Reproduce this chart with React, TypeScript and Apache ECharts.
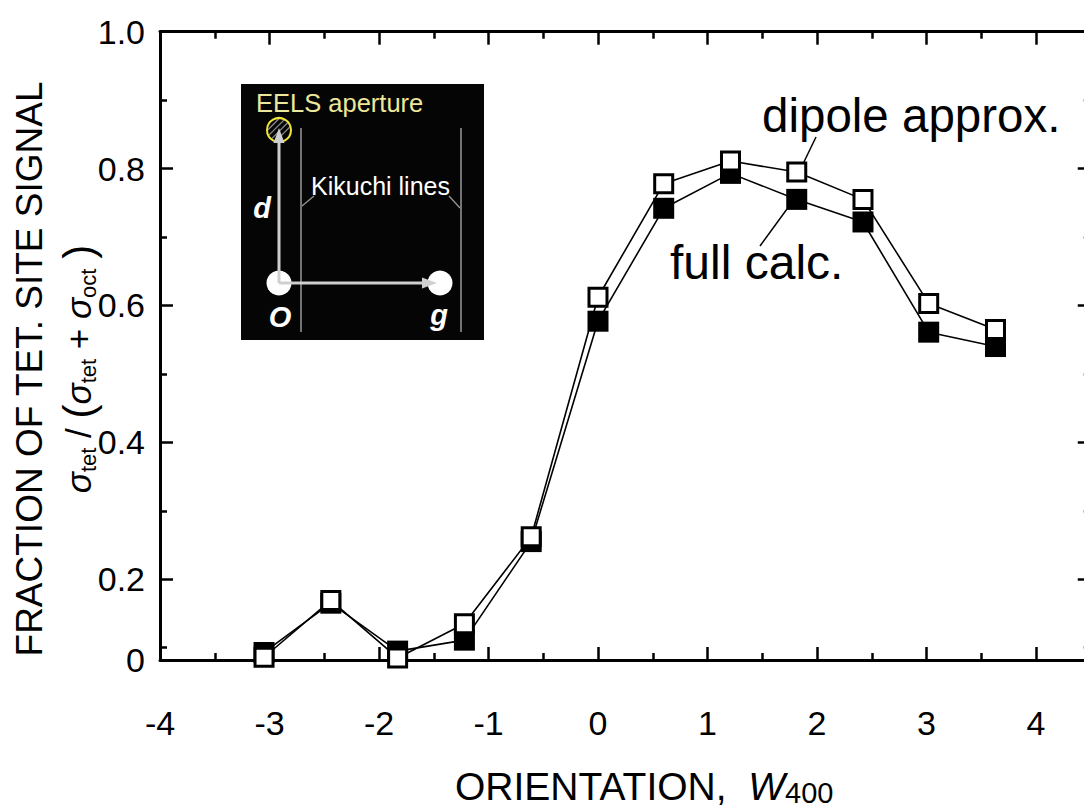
import React, { useEffect, useRef } from 'react';
import * as echarts from 'echarts';

// ---- data ----
const orientation = [-3.05, -2.44, -1.83, -1.22, -0.61, 0, 0.6, 1.21, 1.815, 2.42, 3.02, 3.63];
const dipoleApprox = [0.086, 0.169, 0.085, 0.135, 0.262, 0.612, 0.778, 0.811, 0.795, 0.755, 0.603, 0.565];
const fullCalc = [0.093, 0.165, 0.095, 0.111, 0.255, 0.577, 0.742, 0.793, 0.755, 0.722, 0.561, 0.54];

const X_MIN = -4;
const X_MAX = 4.5;
const Y_MIN = 0.082; // bottom of the drawn axis, labelled "0" in the original
const Y_MAX = 1.0;
const xMajorTicks = [-4, -3, -2, -1, 0, 1, 2, 3, 4];
const xMinorTicks = [-3.5, -2.5, -1.5, -0.5, 0.5, 1.5, 2.5, 3.5];
const yMajorTicks = [0.2, 0.4, 0.6, 0.8, 1.0];
const yMinorTicks = [0.1, 0.3, 0.5, 0.7, 0.9];
const yTickLabels = [Y_MIN, 0.2, 0.4, 0.6, 0.8, 1.0];

const FONT = '"Liberation Sans", Arial, Helvetica, sans-serif';

function xAxisDef(position: string, ticks: number[], len: number, withLabel: boolean, withLine: boolean) {
  return {
    type: 'value',
    position,
    min: X_MIN,
    max: X_MAX,
    axisLine: { show: withLine, onZero: false, lineStyle: { color: '#000', width: 3 } },
    axisTick: { show: true, inside: true, length: len, customValues: ticks, lineStyle: { color: '#000', width: 2.5 } },
    axisLabel: withLabel
      ? { show: true, customValues: xMajorTicks, margin: 46, fontSize: 34, color: '#000', fontFamily: FONT,
          formatter: (v: number) => String(v) }
      : { show: false },
    splitLine: { show: false },
  };
}

function yAxisDef(position: string, ticks: number[], len: number, withLabel: boolean, withLine: boolean) {
  return {
    type: 'value',
    position,
    min: Y_MIN,
    max: Y_MAX,
    axisLine: { show: withLine, onZero: false, lineStyle: { color: '#000', width: 3 } },
    axisTick: { show: true, inside: true, length: len, customValues: ticks, lineStyle: { color: '#000', width: 2.5 } },
    axisLabel: withLabel
      ? { show: true, customValues: yTickLabels, margin: 15, fontSize: 34, color: '#000', fontFamily: FONT,
          formatter: (v: number) => (Math.abs(v - Y_MIN) < 1e-6 ? '0' : v.toFixed(1)) }
      : { show: false },
    splitLine: { show: false },
  };
}

function insetGraphics() {
  const els: any[] = [];
  const cx = 279, cy = 130, r = 12;
  els.push({ type: 'rect', shape: { x: 241, y: 84, width: 243, height: 256 }, style: { fill: '#050505' }, z: 10 });
  // Kikuchi lines
  els.push({ type: 'line', shape: { x1: 301, y1: 128, x2: 301, y2: 332 }, style: { stroke: '#9a9a9a', lineWidth: 1.5 }, z: 11 });
  els.push({ type: 'line', shape: { x1: 461, y1: 128, x2: 461, y2: 332 }, style: { stroke: '#9a9a9a', lineWidth: 1.5 }, z: 11 });
  els.push({ type: 'line', shape: { x1: 314, y1: 196, x2: 302, y2: 206 }, style: { stroke: '#9a9a9a', lineWidth: 1.2 }, z: 11 });
  els.push({ type: 'line', shape: { x1: 449, y1: 196, x2: 460, y2: 208 }, style: { stroke: '#9a9a9a', lineWidth: 1.2 }, z: 11 });
  els.push({ type: 'text', x: 311, y: 186, style: { text: 'Kikuchi lines', fill: '#ffffff', font: `25px ${FONT}`, align: 'left', verticalAlign: 'middle' }, z: 12 });
  // aperture
  [-8, -3.5, 1, 5.5].forEach((d) => {
    const h = Math.sqrt(r * r - d * d);
    const s = Math.SQRT1_2;
    els.push({ type: 'line', shape: { x1: cx + d * s - h * s, y1: cy + d * s + h * s, x2: cx + d * s + h * s, y2: cy + d * s - h * s },
      style: { stroke: '#8a8a8a', lineWidth: 1.3 }, z: 11 });
  });
  els.push({ type: 'circle', shape: { cx, cy, r }, style: { fill: 'none', stroke: '#f0e43a', lineWidth: 2 }, z: 12 });
  els.push({ type: 'text', x: 256, y: 103, style: { text: 'EELS aperture', fill: '#ece89a', font: `25.5px ${FONT}`, align: 'left', verticalAlign: 'middle' }, z: 12 });
  // spots
  els.push({ type: 'circle', shape: { cx: 279, cy: 283, r: 12.5 }, style: { fill: '#ffffff' }, z: 11 });
  els.push({ type: 'circle', shape: { cx: 440, cy: 283, r: 12.5 }, style: { fill: '#ffffff' }, z: 11 });
  // arrows
  els.push({ type: 'line', shape: { x1: 279, y1: 283, x2: 279, y2: 140 }, style: { stroke: '#cfcfcf', lineWidth: 3 }, z: 13 });
  els.push({ type: 'polygon', shape: { points: [[279, 128], [273.5, 143], [284.5, 143]] }, style: { fill: '#cfcfcf' }, z: 13 });
  els.push({ type: 'line', shape: { x1: 279, y1: 283, x2: 424, y2: 283 }, style: { stroke: '#cfcfcf', lineWidth: 3 }, z: 13 });
  els.push({ type: 'polygon', shape: { points: [[437, 283], [422, 277.5], [422, 288.5]] }, style: { fill: '#cfcfcf' }, z: 13 });
  // letters
  const bi = `italic bold 29px ${FONT}`;
  els.push({ type: 'text', x: 262, y: 208, style: { text: 'd', fill: '#fff', font: bi, align: 'center', verticalAlign: 'middle' }, z: 12 });
  els.push({ type: 'text', x: 280, y: 317, style: { text: 'O', fill: '#fff', font: bi, align: 'center', verticalAlign: 'middle' }, z: 12 });
  els.push({ type: 'text', x: 439, y: 315, style: { text: 'g', fill: '#fff', font: bi, align: 'center', verticalAlign: 'middle' }, z: 12 });
  return els;
}

function titleGraphics() {
  const els: any[] = [];
  // y-axis title line 1
  els.push({ type: 'text', x: 29, y: 369, rotation: Math.PI / 2,
    style: { text: 'FRACTION OF TET. SITE SIGNAL', fill: '#000', font: `37px ${FONT}`, align: 'center', verticalAlign: 'middle' } });
  // y-axis title line 2 (rich)
  const base = { fill: '#000', fontFamily: FONT };
  els.push({ type: 'text', x: 78, y: 369, rotation: Math.PI / 2,
    style: {
      text: '{s|σ}{sub|tet}{n| / }{p|(}{s|σ}{sub|tet}{n| + }{s|σ}{sub|oct}{n| }{p|)}',
      align: 'center', verticalAlign: 'middle',
      rich: {
        s: { ...base, fontSize: 35, fontStyle: 'italic', lineHeight: 42, verticalAlign: 'middle' },
        sub: { ...base, fontSize: 22, lineHeight: 22, verticalAlign: 'bottom' },
        n: { ...base, fontSize: 35, lineHeight: 42, verticalAlign: 'middle' },
        p: { ...base, fontSize: 42, lineHeight: 42, verticalAlign: 'middle' },
      },
    } });
  // x-axis title
  els.push({ type: 'text', x: 455, y: 786,
    style: {
      text: '{n|ORIENTATION,  }{w|W}{sub|400}',
      align: 'left', verticalAlign: 'middle',
      rich: {
        n: { ...base, fontSize: 39, lineHeight: 42, verticalAlign: 'middle' },
        w: { ...base, fontSize: 39, fontStyle: 'italic', lineHeight: 42, verticalAlign: 'middle' },
        sub: { ...base, fontSize: 29, lineHeight: 29, verticalAlign: 'bottom' },
      },
    } });
  // annotations
  els.push({ type: 'text', x: 762, y: 115, style: { text: 'dipole approx.', fill: '#000', font: `47.5px ${FONT}`, align: 'left', verticalAlign: 'middle' } });
  els.push({ type: 'line', shape: { x1: 816, y1: 137, x2: 802, y2: 166 }, style: { stroke: '#000', lineWidth: 1.5 } });
  els.push({ type: 'text', x: 670, y: 262, style: { text: 'full calc.', fill: '#000', font: `48px ${FONT}`, align: 'left', verticalAlign: 'middle' } });
  els.push({ type: 'line', shape: { x1: 760, y1: 246, x2: 787, y2: 209 }, style: { stroke: '#000', lineWidth: 1.5 } });
  return els;
}

export default function App() {
  const ref = useRef<HTMLDivElement>(null);
  useEffect(() => {
    if (!ref.current) return;
    const chart = echarts.init(ref.current, null, { renderer: 'svg' });
    const fullPts = orientation.map((x, i) => [x, fullCalc[i]]);
    const dipPts = orientation.map((x, i) => [x, dipoleApprox[i]]);
    chart.setOption({
      animation: false,
      backgroundColor: '#ffffff',
      grid: { left: 160, top: 31.7, right: -6.75, bottom: 150, containLabel: false, outerBoundsMode: 'none' },
      xAxis: [
        xAxisDef('bottom', xMajorTicks, 13, true, true),
        xAxisDef('bottom', xMinorTicks, 7, false, false),
        xAxisDef('top', xMajorTicks, 13, false, true),
        xAxisDef('top', xMinorTicks, 7, false, false),
      ],
      yAxis: [
        yAxisDef('left', yMajorTicks, 13, true, true),
        yAxisDef('left', yMinorTicks, 7, false, false),
        yAxisDef('right', yMajorTicks, 13, false, true),
        yAxisDef('right', yMinorTicks, 7, false, false),
      ],
      series: [
        { name: 'full calc. line', type: 'line', data: fullPts, symbol: 'none', showSymbol: false,
          lineStyle: { color: '#000', width: 1.6 }, z: 2, silent: true },
        { name: 'dipole approx. line', type: 'line', data: dipPts, symbol: 'none', showSymbol: false,
          lineStyle: { color: '#000', width: 1.6 }, z: 2, silent: true },
        { name: 'full calc.', type: 'scatter', data: fullPts, symbol: 'rect', symbolSize: 21,
          itemStyle: { color: '#000', opacity: 1 }, z: 3 },
        { name: 'dipole approx.', type: 'scatter', data: dipPts, symbol: 'rect', symbolSize: 18,
          itemStyle: { color: '#fff', borderColor: '#000', borderWidth: 3, opacity: 1 }, z: 4 },
      ],
      graphic: [...insetGraphics(), ...titleGraphics()],
    });
    return () => chart.dispose();
  }, []);
  return <div ref={ref} style={{ position: 'absolute', left: 0, top: 0, width: 1084, height: 810 }} />;
}
